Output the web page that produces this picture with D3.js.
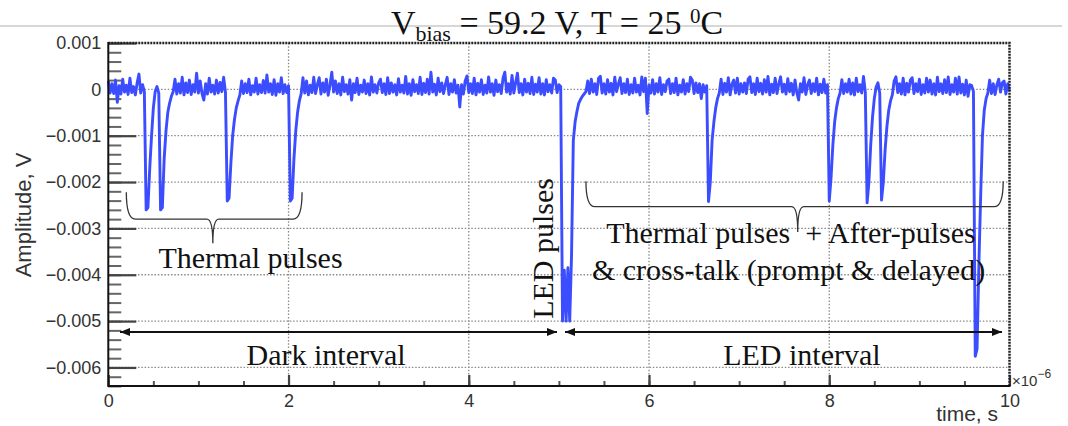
<!DOCTYPE html>
<html>
<head>
<meta charset="utf-8">
<script src="https://cdn.jsdelivr.net/npm/d3@7"></script>
<style>
  body { margin: 0; background: #fff; }
  svg { display: block; }
  .tick text { font-family: "Liberation Sans", Arial, sans-serif; font-size: 18px; fill: #333; }
  .serif { font-family: "Liberation Serif", "Times New Roman", serif; fill: #111; }
  .sans { font-family: "Liberation Sans", Arial, sans-serif; fill: #333; }
</style>
</head>
<body>
<svg id="chart" width="1068" height="426"></svg>
<script>
// waveform: one sample every 0.02 us, amplitude in units of 10 uV
const sampleStep = 0.02;
const trace = [
  18, -8, 12, -9, 20, -28, 8, -10, 22, -6, 9, -11, 24, -7, 6, -12, 14, 33, -8, 10, -5, -260, -255, -170, -100,
  -40, -5, 6, -8, -260, -255, -150, -90, -50, -30, -15, -5, 22, -10, 12, -8, 26, -12, 14, -7, 20, -11, 10, -6, 35,
  -8, 18, -9, -23, 12, -10, 24, -6, 9, -10, 20, -8, 15, -5, 26, -6, -241, -235, -160, -100, -65, -40, -25, -12, 18,
  -9, 12, -7, 22, -12, 8, -6, 24, -10, 10, -7, 19, -8, 31, -6, 12, -11, 21, -13, 12, -6, 25, -9, 10, -7,
  8, -241, -235, -150, -90, -50, -25, -10, 25, -8, 18, -12, 9, -7, 26, -9, 10, 25, -10, 14, -6, 22, -13, 10, 37,
  -6, 18, -9, 12, -12, 26, -5, 10, -10, 21, -23, 12, -7, 24, -11, 9, -6, 20, -9, 12, -12, 27, -6, 10, -8,
  14, 22, -7, 12, -11, 25, -9, 14, -6, 10, -12, 23, -6, 9, -8, 28, -10, 12, -13, 21, -5, 10, -9, 26, -11,
  13, -7, 22, -10, 37, -6, 11, -12, 24, -5, 14, -9, 10, 26, -11, 12, -6, 21, -8, 9, -38, 10, -10, 18, 29,
  -7, 12, -9, 24, -12, 13, -6, 21, -11, 9, -8, 27, -6, 12, -13, 20, -5, 10, -9, 24, 37, -6, 12, -10, 30,
  -8, 14, 35, -7, 12, -12, 22, -6, 13, -9, 26, -11, 11, -6, 25, -10, 12, -12, 21, -5, 10, -8, 24, 20, -7,
  10, 6, -500, -390, -500, -385, -500, -360, -110, -70, -48, -30, -22, -15, -10, -5, 18, -9, 22, -6, 12, -11, 24, 28, -8,
  12, -10, 21, -6, 13, -12, 26, -5, 11, 25, -9, 12, -7, 22, -11, 10, -8, 24, -6, 9, -12, 27, -5, 24, -52,
  9, -8, 21, -10, 12, -6, 25, -11, 10, -5, 18, 22, -9, 12, -7, 24, -12, 9, -6, 21, -10, 12, -5, 26, 20,
  -9, 14, -7, 12, -20, 10, -6, 8, -242, -200, -110, -70, -40, -20, -8, 22, -11, 13, -6, 25, -12, 11, 20, -8, 24,
  -10, 12, -6, 14, -9, 22, 27, -7, 12, -11, 24, -5, 13, -10, 21, -6, 28, -12, 11, -7, 24, -9, 12, 27, -6,
  11, -10, 23, -5, 13, -12, 20, -7, -23, 12, -6, 25, -11, 10, 20, -9, 12, -5, 24, -12, 11, -7, 22, -8, 10,
  -241, -190, -120, -70, -40, -20, -8, 21, -9, 12, -6, 22, -10, 14, -12, 24, -5, 10, -8, 28, -6, -245, -200, -120, -60,
  -20, 5, 14, -8, -239, -200, -130, -80, -45, -25, -12, 18, 27, -7, 12, -10, 24, -12, 13, -6, 20, 25, -9, 12, -5,
  22, -11, 10, -8, 24, -6, 20, -10, 12, -12, 26, -5, 12, -9, 21, -7, 27, -11, 10, -6, 24, -10, 27, -8, 11,
  -12, 20, -15, 10, 8, -5, -576, -560, -380, -230, -100, -45, -20, -8, 20, -9, 12, -11, 10, 22, -6, 14, 18, -10, 12,
  -4
];
const xTicks = [0, 2, 4, 6, 8, 10];
const yTicks = [0.001, 0, -0.001, -0.002, -0.003, -0.004, -0.005, -0.006];

const svg = d3.select('#chart');
const plotLeft = 108.3, plotRight = 1009.5, plotTop = 43, plotBottom = 386;

const x = d3.scaleLinear().domain([0, 10]).range([plotLeft, plotRight]);
const y = d3.scaleLinear().domain([-0.0064, 0.001]).range([plotBottom, plotTop]);

// header line + title
svg.append('line')
  .attr('x1', 0).attr('x2', 1062).attr('y1', 26).attr('y2', 26)
  .attr('stroke', '#b0b0b0').attr('stroke-width', 1.2);

const title = svg.append('text').attr('class', 'serif')
  .attr('x', 557).attr('y', 34)
  .attr('text-anchor', 'middle')
  .style('font-size', '34px');
title.append('tspan').text('V');
title.append('tspan').attr('dy', 7).style('font-size', '22px').text('bias');
title.append('tspan').attr('dy', -7).text(' = 59.2 V, T = 25 ');
title.append('tspan').attr('dy', -11).style('font-size', '21px').text('0');
title.append('tspan').attr('dy', 11).text('C');

// grid
const grid = svg.append('g')
  .attr('stroke', '#8a8a8a').attr('stroke-width', 1.3).attr('stroke-dasharray', '1.5,1.8');
grid.selectAll('.gx').data(xTicks.slice(1, -1)).join('line')
  .attr('x1', d => x(d)).attr('x2', d => x(d)).attr('y1', plotTop).attr('y2', plotBottom);
grid.selectAll('.gy').data(yTicks.slice(1)).join('line')
  .attr('x1', plotLeft).attr('x2', plotRight).attr('y1', d => y(d)).attr('y2', d => y(d));

// y axis: major + minor ticks pointing inwards
const fmtY = d => d === 0 ? '0' : d3.format('.3f')(d);
const yMinor = d3.range(-32, 6).map(k => k * 0.0002);

svg.append('g')
  .attr('transform', `translate(${plotLeft},0)`)
  .call(d3.axisLeft(y).tickValues(yMinor).tickSize(-13).tickFormat(''))
  .call(g => g.select('.domain').remove())
  .call(g => g.selectAll('line').attr('stroke', '#666').attr('stroke-width', 2));

svg.append('g')
  .attr('transform', `translate(${plotLeft},0)`)
  .call(d3.axisLeft(y).tickValues(yTicks).tickSize(-28).tickPadding(7).tickFormat(fmtY))
  .call(g => g.select('.domain').remove())
  .call(g => g.selectAll('line').attr('stroke', '#444').attr('stroke-width', 2.2));

// x axis
const xMinor = d3.range(0, 21).map(k => k * 0.5);
svg.append('g')
  .attr('transform', `translate(0,${plotBottom})`)
  .call(d3.axisBottom(x).tickValues(xMinor).tickSize(-5).tickFormat(''))
  .call(g => g.select('.domain').remove())
  .call(g => g.selectAll('line').attr('stroke', '#555').attr('stroke-width', 2));

svg.append('g')
  .attr('transform', `translate(0,${plotBottom})`)
  .call(d3.axisBottom(x).tickValues(xTicks).tickSize(-11).tickPadding(8).tickFormat(d3.format('d')))
  .call(g => g.select('.domain').remove())
  .call(g => g.selectAll('line').attr('stroke', '#444').attr('stroke-width', 2.2));

// waveform
const points = trace.map((v, i) => [i * sampleStep, v * 1e-5]);
svg.append('path')
  .datum(points)
  .attr('fill', 'none')
  .attr('stroke', '#3b4dff')
  .attr('stroke-width', 2.9)
  .attr('stroke-linejoin', 'round')
  .attr('d', d3.line().x(d => x(d[0])).y(d => y(d[1])));

// frame
svg.append('path')
  .attr('d', `M${plotLeft},${plotTop}H${plotRight}V${plotBottom}`)
  .attr('fill', 'none').attr('stroke', '#222').attr('stroke-width', 2.5)
  .attr('stroke-dasharray', '2,1');
svg.append('path')
  .attr('d', `M${plotLeft},${plotTop - 1}V${plotBottom}H${plotRight + 1}`)
  .attr('fill', 'none').attr('stroke', '#111').attr('stroke-width', 2);

// axis titles
svg.append('text').attr('class', 'sans')
  .attr('transform', 'translate(31,215) rotate(-90)')
  .attr('text-anchor', 'middle')
  .style('font-size', '22px')
  .text('Amplitude, V');

svg.append('text').attr('class', 'sans')
  .attr('x', 998).attr('y', 421)
  .attr('text-anchor', 'end')
  .style('font-size', '21px')
  .text('time, s');

const expo = svg.append('text').attr('class', 'sans')
  .attr('x', 1012).attr('y', 386)
  .style('font-size', '15px');
expo.append('tspan').text('×10');
expo.append('tspan').attr('dy', -8).style('font-size', '12px').text('−6');

// annotations
const ann = svg.append('g');
const brace = (x0, x1, xm, yTop, yBar, yTip) =>
  `M${x0},${yTop} Q${x0},${yBar} ${x0 + 9},${yBar} L${xm - 6},${yBar} Q${xm},${yBar} ${xm},${yTip}` +
  ` Q${xm},${yBar} ${xm + 6},${yBar} L${x1 - 9},${yBar} Q${x1},${yBar} ${x1},${yTop}`;

ann.append('path')
  .attr('d', brace(x(0.2), x(2.15), x(1.16), y(-0.00222), y(-0.00280), y(-0.00332)))
  .attr('fill', 'none').attr('stroke', '#333').attr('stroke-width', 1.3);
ann.append('path')
  .attr('d', brace(x(5.3), x(9.93), x(7.65), y(-0.00198), y(-0.00253), y(-0.00308)))
  .attr('fill', 'none').attr('stroke', '#333').attr('stroke-width', 1.3);

const label = (t, v, txt, anchor) => ann.append('text').attr('class', 'serif')
  .attr('x', x(t)).attr('y', y(v))
  .attr('text-anchor', anchor || 'middle')
  .style('font-size', '30px')
  .style('white-space', 'pre')
  .text(txt);

label(1.578, -0.003853, 'Thermal pulses');
label(7.575, -0.003314, 'Thermal pulses  + After-pulses');
label(7.548, -0.004112, '& cross-talk (prompt & delayed)');
label(2.417, -0.005946, 'Dark interval');
label(7.697, -0.005946, 'LED interval');

ann.append('text').attr('class', 'serif')
  .attr('transform', `translate(${x(4.935)},${y(-0.003432)}) rotate(-90)`)
  .attr('text-anchor', 'middle')
  .style('font-size', '30px')
  .text('LED pulses');

// interval arrows
svg.append('defs').append('marker')
  .attr('id', 'head').attr('viewBox', '0 0 10 8')
  .attr('refX', 10).attr('refY', 4)
  .attr('markerWidth', 10).attr('markerHeight', 8)
  .attr('markerUnits', 'userSpaceOnUse')
  .attr('orient', 'auto-start-reverse')
  .append('path').attr('d', 'M0,0L10,4L0,8Z').attr('fill', '#111');

const arrows = [[0.13, 4.979], [5.068, 9.917]];
ann.selectAll('.arrow').data(arrows).join('line')
  .attr('x1', d => x(d[0])).attr('x2', d => x(d[1]))
  .attr('y1', y(-0.005234)).attr('y2', y(-0.005234))
  .attr('stroke', '#111').attr('stroke-width', 2)
  .attr('marker-start', 'url(#head)').attr('marker-end', 'url(#head)');
</script>
</body>
</html>
